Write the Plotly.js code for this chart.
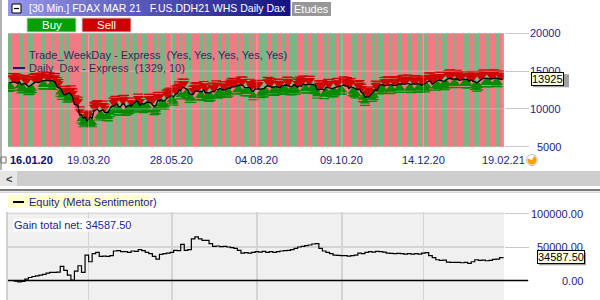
<!DOCTYPE html>
<html><head><meta charset="utf-8">
<script src="https://cdn.plot.ly/plotly-3.0.1.min.js"></script>
<style>html,body{margin:0;padding:0;background:#fff;}#chart{width:600px;height:300px;}</style>
</head><body><div id="chart"></div>
<script>
// ---------------- DATA ----------------
const holidays = ['2020-04-10','2020-04-13','2020-05-01','2020-12-24','2020-12-25','2020-12-31','2021-01-01'];
const firstDay = '2020-01-16', lastDay = '2021-02-19';

const price = [
 13430,13526,13548,13555,13515,13388,13577,13204,13324,13345,13157,12982,
 13045,13250,13479,13575,13514,13494,13627,13749,13745,13744,13783,13681,13789,13664,13579,13035,12790,12774,12367,11890,
 11857,11985,12128,11944,11541,10625,10475,10438,9161,9232,8742,8939,8441,8610,8929,8741,9701,9874,10000,9633,9815,9936,
 9544,9571,9525,10075,10356,10333,10564,10696,10280,10301,10626,10676,10249,10416,10513,10336,10659,10796,11108,10862,
 10467,10730,10606,10759,10904,10825,10820,10542,10337,10465,11058,11075,11223,11065,11074,11392,11505,11657,11781,11587,
 11919,12021,12487,12431,12848,12820,12615,12530,11970,11949,11911,12316,12382,12281,12331,12262,12523,12093,12177,12089,12232,12311,
 12260,12608,12528,12733,12617,12495,12489,12633,12799,12697,12931,12874,12920,13046,13171,13105,13104,12838,12839,12836,12822,12380,12313,
 12647,12601,12660,12592,12675,12688,12947,13058,12994,12901,12920,12881,12977,12830,12765,13067,13061,13190,13096,13033,12945,
 12974,13243,13057,12842,13100,12968,13238,13209,13203,13194,13218,13255,13208,13116,12542,12595,12643,12607,12469,12871,12825,12761,
 12731,12689,12828,12906,12928,13042,13051,13139,13018,13028,12704,12909,12854,12736,12558,12543,12646,12177,12063,11561,11598,11556,
 11789,12089,12324,12568,12480,13096,13163,13216,13052,13077,13139,13133,13202,13087,13137,13127,13292,13290,13286,13335,13291,
 13382,13313,13252,13298,13271,13278,13340,13295,13114,13223,13362,13565,13667,13631,13246,13418,13587,13790,13761,13719,
 13726,13651,13892,13968,14049,13937,13925,13940,13989,13787,13848,13815,13922,13906,13874,13643,13871,13620,13666,13433,
 13622,13835,13933,14060,14057,14060,14012,13932,14040,14050,14109,14034,13909,13887,13925
];

// daily signal (G = buy / green day, R = sell / red day), run-length coded
const signalRuns =
 "G2R4G3R2G3R5G2R3G2R3G2R2G2R6G3R2G2R3G2R2G4R2G3R2G3R1" +
 "G3R2G4R3G2R2G3R3G2R3G1R2G4R4G2R2G3R3G3R2G2R4G2R2G3R2G1R1" +
 "R2G4R3G3R2G3R2G4R4G2R2G4R3G2R2G3R2G2R5G3R3G2R3G2R2G1" +
 "G2R3G2R3G2R4G2R3G2R2G2R4G2R2G3R3G2R4G3R3G3R3G3R3G2R3";

// equity, one value every second trading day
const equity = [
 0,-1000,-2000,-1500,2000,4500,6000,7000,8000,9000,11000,12000,12000,12500,21000,15000,8000,500,14000,22000,
 12000,38000,28000,40000,42000,36000,36500,36000,37000,44000,44500,43000,43000,42000,44000,43500,46000,44500,42000,40000,
 36000,32000,39000,40000,41000,42000,45000,44500,54000,45000,46000,62000,65000,62000,60000,60000,55000,51000,51500,50500,
 51000,50000,49000,48000,45000,41000,41500,41000,42000,43000,42500,43500,42000,43000,42000,43000,44000,44500,45000,46000,
 48000,50000,51000,52000,53000,54500,55000,48000,44000,42000,40000,38000,37500,37000,37000,36500,37000,38000,41000,40000,
 42000,43000,42500,43500,43000,42500,41000,40500,40000,40500,40000,39500,40000,39500,40000,39500,41000,41500,37000,34000,
 31000,30000,30500,27500,27000,27000,27000,26500,27000,25500,28000,31000,30000,30500,29500,30000,31500,32000,34000,34587.5
];

const xTickDates = ['2020-03-19','2020-05-28','2020-08-04','2020-10-09','2020-12-14','2021-02-19'];
const xTickText  = ['19.03.20','28.05.20','04.08.20','09.10.20','14.12.20','19.02.21'];
const firstLabel = '16.01.20';
const priceTicks = [5000,10000,15000,20000];
const equityTicks = [0,50000,100000];
const lastPrice = 13925;
const gainNet = 34587.50;
const headerText = '[30 Min.] FDAX MAR 21\u00a0\u00a0\u00a0F.US.DDH21 WHS Daily Dax';
const legend1 = 'Trade_WeekDay - Express\u00a0\u00a0(Yes, Yes, Yes, Yes, Yes)';
const legend2 = 'Daily_Dax - Express\u00a0\u00a0(1329, 10)';
const legend3 = 'Equity (Meta Sentimentor)';

// ---------------- BUILD ----------------
const dates = [];
for (let d = new Date(firstDay + 'T00:00:00Z'); d <= new Date(lastDay + 'T00:00:00Z'); d.setUTCDate(d.getUTCDate() + 1)) {
  const wd = d.getUTCDay();
  if (wd === 0 || wd === 6) continue;
  const s = d.toISOString().slice(0, 10);
  if (holidays.includes(s)) continue;
  dates.push(s);
}
const signal = [];
signalRuns.match(/[GR]\d+/g).forEach(t => { for (let k = 0; k < +t.slice(1); k++) signal.push(t[0]); });

const N = dates.length;
const FONT = 'Liberation Sans, Arial, sans-serif';
const NAVY = '#1c1c8c';
const STRIPE_G = '#7bb585', STRIPE_R = '#f27a84';
const px = x => x / 600, py = y => 1 - y / 300;

const redX = [], redY = [], redL = [], grnX = [], grnY = [], grnL = [];
for (let i = 0; i < N; i++) {
  if (signal[i] === 'R') { redX.push(dates[i]); redY.push(price[i] + 560); redL.push(price[i] + 1100); }
  else { grnX.push(dates[i]); grnY.push(price[i] - 560); grnL.push(price[i] - 1100); }
}
const eqX = dates.filter((d, i) => i % 2 === 1);
const tickIdx = xTickDates.map(d => dates.indexOf(d));

const traces = [
  { type: 'bar', x: dates, y: dates.map(() => 15000), base: 5000, width: 1,
    marker: { color: signal.map(s => s === 'R' ? STRIPE_R : STRIPE_G), line: { width: 0 } },
    xaxis: 'x', yaxis: 'y', hoverinfo: 'skip' },
  { type: 'scatter', mode: 'markers', x: redX, y: redL, xaxis: 'x', yaxis: 'y',
    marker: { symbol: 'line-ew', size: 7, line: { color: '#d00000', width: 1.2 } } },
  { type: 'scatter', mode: 'markers', x: grnX, y: grnL, xaxis: 'x', yaxis: 'y',
    marker: { symbol: 'line-ew', size: 7, line: { color: '#008a00', width: 1.2 } } },
  { type: 'scatter', mode: 'markers', x: redX, y: redY, xaxis: 'x', yaxis: 'y',
    marker: { symbol: 'triangle-down', size: 9, color: '#d00000', line: { width: 0 } } },
  { type: 'scatter', mode: 'markers', x: grnX, y: grnY, xaxis: 'x', yaxis: 'y',
    marker: { symbol: 'triangle-up', size: 9, color: '#008a00', line: { width: 0 } } },
  { type: 'scatter', mode: 'lines', x: dates, y: price, xaxis: 'x', yaxis: 'y',
    line: { color: '#000', width: 1.3 } },
  { type: 'scatter', mode: 'lines', x: eqX, y: equity, xaxis: 'x2', yaxis: 'y2',
    line: { color: '#000', width: 1.2, shape: 'hv' } }
];

const shapes = [];
// header gradient bar
const G0 = [150, 150, 235], G1 = [20, 20, 130];
const nSeg = 40, hx0 = 8, hx1 = 290;
for (let k = 0; k < nSeg; k++) {
  const t = k / (nSeg - 1);
  const c = G0.map((v, j) => Math.round(v + (G1[j] - v) * t));
  shapes.push({ type: 'rect', xref: 'paper', yref: 'paper', layer: 'below',
    x0: px(hx0 + (hx1 - hx0) * k / nSeg), x1: px(hx0 + (hx1 - hx0) * (k + 1) / nSeg + 0.5),
    y0: py(16), y1: py(0), fillcolor: `rgb(${c.join(',')})`, line: { width: 0 } });
}
// header minus box
shapes.push({ type: 'rect', xref: 'paper', yref: 'paper', x0: px(12), x1: px(21), y0: py(13), y1: py(4),
  fillcolor: '#fff', line: { color: '#000', width: 1 } });
shapes.push({ type: 'line', xref: 'paper', yref: 'paper', x0: px(14), x1: px(19), y0: py(8.5), y1: py(8.5),
  line: { color: '#000', width: 1.2 } });
// Etudes / Buy / Sell buttons
shapes.push({ type: 'rect', xref: 'paper', yref: 'paper', x0: px(292), x1: px(331), y0: py(16), y1: py(2),
  fillcolor: '#979797', line: { width: 0 } });
shapes.push({ type: 'rect', xref: 'paper', yref: 'paper', x0: px(27), x1: px(76), y0: py(32), y1: py(18),
  fillcolor: '#00a000', line: { color: '#d0d0d0', width: 1 } });
shapes.push({ type: 'rect', xref: 'paper', yref: 'paper', x0: px(82), x1: px(131), y0: py(32), y1: py(18),
  fillcolor: '#cc0000', line: { color: '#d0d0d0', width: 1 } });
// left window edge
shapes.push({ type: 'line', xref: 'paper', yref: 'paper', x0: px(1), x1: px(1), y0: py(170), y1: py(0),
  line: { color: '#9a9a9a', width: 1.5 } });
// faint grid over stripes
priceTicks.slice(1, 3).forEach(v => shapes.push({ type: 'line', xref: 'paper', yref: 'y', x0: px(8), x1: px(504), y0: v, y1: v,
  line: { color: 'rgba(225,225,225,0.45)', width: 1 } }));
tickIdx.forEach(i => shapes.push({ type: 'line', xref: 'x', yref: 'y', x0: i, x1: i, y0: 5000, y1: 20000,
  line: { color: 'rgba(225,225,225,0.35)', width: 1 } }));
// scrollbar
shapes.push({ type: 'rect', xref: 'paper', yref: 'paper', x0: 0, x1: 1, y0: py(186), y1: py(171),
  fillcolor: '#cdcdcd', line: { width: 0 } });
shapes.push({ type: 'rect', xref: 'paper', yref: 'paper', x0: 0, x1: px(17), y0: py(186), y1: py(171),
  fillcolor: '#e6e6e6', line: { width: 0 } });
// panel separator
shapes.push({ type: 'rect', xref: 'paper', yref: 'paper', x0: 0, x1: 1, y0: py(191), y1: py(189),
  fillcolor: '#7a7a7a', line: { width: 0 } });
shapes.push({ type: 'rect', xref: 'paper', yref: 'paper', x0: 0, x1: 1, y0: py(193), y1: py(191.5),
  fillcolor: '#d6d6d6', line: { width: 0 } });
// equity legend box
shapes.push({ type: 'rect', xref: 'paper', yref: 'paper', x0: px(8), x1: px(150), y0: py(208), y1: py(195),
  fillcolor: '#ffffcc', line: { width: 0 } });
shapes.push({ type: 'line', xref: 'paper', yref: 'paper', x0: px(13), x1: px(24), y0: py(202), y1: py(202),
  line: { color: '#000', width: 2 } });
// Daily_Dax legend dash
shapes.push({ type: 'line', xref: 'paper', yref: 'paper', x0: px(13), x1: px(25), y0: py(68), y1: py(68),
  line: { color: '#1a1a7a', width: 2 } });
// bottom panel left border
shapes.push({ type: 'line', xref: 'paper', yref: 'paper', x0: px(7), x1: px(7), y0: 0, y1: py(212),
  line: { color: '#a0a0a0', width: 1 } });
// zero line of equity
shapes.push({ type: 'line', xref: 'paper', yref: 'y2', x0: px(8), x1: px(528), y0: 0, y1: 0,
  line: { color: '#000', width: 1.5 } });
// tag shadows
shapes.push({ type: 'rect', xref: 'paper', yref: 'y', ysizemode: 'pixel', yanchor: lastPrice,
  x0: px(533), x1: px(569), y0: -8, y1: 5, fillcolor: '#a0a0a0', line: { width: 0 } });
shapes.push({ type: 'rect', xref: 'paper', yref: 'y2', ysizemode: 'pixel', yanchor: gainNet,
  x0: px(539), x1: px(586), y0: -8, y1: 5, fillcolor: '#a0a0a0', line: { width: 0 } });
// orange clock icon
const cx = 532, cy = 160, r = 5.5;
shapes.push({ type: 'circle', xref: 'paper', yref: 'paper', x0: px(cx - r), x1: px(cx + r), y0: py(cy + r), y1: py(cy - r),
  fillcolor: '#fff', line: { color: '#c0c0c0', width: 1 } });
let pth = `M ${px(cx)},${py(cy)}`;
for (let a = -60; a <= 200; a += 20) {
  const rad = a * Math.PI / 180;
  pth += ` L ${px(cx + (r - 1) * Math.cos(rad))},${py(cy + (r - 1) * Math.sin(rad))}`;
}
pth += ' Z';
shapes.push({ type: 'path', xref: 'paper', yref: 'paper', path: pth, fillcolor: '#f5a300', line: { width: 0 } });
// small icon at left of x labels
shapes.push({ type: 'rect', xref: 'paper', yref: 'paper', x0: px(1), x1: px(6), y0: py(163), y1: py(157),
  fillcolor: 'rgba(0,0,0,0)', line: { color: '#707070', width: 1 } });

const A = (text, x, y, o = {}) => Object.assign({ text, x, y, xref: 'paper', yref: 'paper', showarrow: false,
  xanchor: 'left', yanchor: 'middle', font: { family: FONT, size: 11, color: NAVY } }, o);

const annotations = [
  A(headerText, px(27), py(8.5), { font: { family: FONT, size: 10.5, color: '#ffffff' } }),
  A('Etudes', px(311.5), py(9), { xanchor: 'center', font: { family: FONT, size: 11, color: '#ffffff' } }),
  A('Buy', px(51.5), py(25), { xanchor: 'center', font: { family: FONT, size: 11.5, color: '#ffffff' } }),
  A('Sell', px(106.5), py(25), { xanchor: 'center', font: { family: FONT, size: 11.5, color: '#ffffff' } }),
  A(legend1, px(27), py(55), { font: { family: FONT, size: 11, color: '#23305e' } }),
  A(legend2, px(27), py(68), { font: { family: FONT, size: 11, color: '#4a1f55' } }),
  A('<b>' + firstLabel + '</b>', px(8), py(160), { font: { family: FONT, size: 11, color: '#0c0c70' } }),
  A('<b>&lt;</b>', px(8.5), py(178.5), { xanchor: 'center', font: { family: FONT, size: 11, color: '#404040' } }),
  A(legend3, px(27), py(201.5), { font: { family: FONT, size: 11, color: NAVY } }),
  A('Gain total net: ' + gainNet.toFixed(2), px(13), py(225), { bgcolor: '#ffffff', borderpad: 0,
    font: { family: FONT, size: 11, color: NAVY } })
];
xTickText.forEach((t, k) => annotations.push(A(t, tickIdx[k], py(160), { xref: 'x', xanchor: 'center' })));
priceTicks.forEach(v => annotations.push(A(String(v), px(563), v, { yref: 'y', xanchor: 'right' })));
equityTicks.forEach(v => annotations.push(A(v.toFixed(2), px(585), v, { yref: 'y2', xanchor: 'right' })));
// value tags drawn after the tick labels (they cover them, as in the original)
annotations.push(A(String(lastPrice), px(531), lastPrice, { yref: 'y', bgcolor: '#ffffe1', bordercolor: '#000', borderwidth: 1, borderpad: 0,
  font: { family: FONT, size: 11, color: '#000' } }));
annotations.push(A(gainNet.toFixed(2), px(537), gainNet, { yref: 'y2', bgcolor: '#ffffe1', bordercolor: '#000', borderwidth: 1, borderpad: 0,
  font: { family: FONT, size: 11, color: '#000' } }));

const xCommon = { type: 'category', categoryorder: 'array', categoryarray: dates, range: [-0.5, N - 0.5],
  domain: [px(8), px(504)], showticklabels: false, ticks: '', zeroline: false, showline: false, fixedrange: true };

const layout = {
  width: 600, height: 300, margin: { l: 0, r: 0, t: 0, b: 0 },
  paper_bgcolor: '#ffffff', plot_bgcolor: '#f0f0f0', showlegend: false, bargap: 0,
  font: { family: FONT },
  xaxis: Object.assign({}, xCommon, { anchor: 'y', showgrid: false }),
  yaxis: { domain: [py(146.7), py(33.3)], range: [5000, 20000], side: 'right', anchor: 'x',
    tickvals: priceTicks, showticklabels: false, ticks: 'outside', ticklen: 24, tickcolor: '#c8c8c8', tickwidth: 1,
    showgrid: false, zeroline: false, showline: false },
  xaxis2: Object.assign({}, xCommon, { anchor: 'y2', showgrid: true, gridcolor: '#d4d4d4', gridwidth: 1.5,
    tickmode: 'array', tickvals: tickIdx }),
  yaxis2: { domain: [0, py(212)], range: [-29100, 102240], side: 'right', anchor: 'x2',
    tickvals: equityTicks, showticklabels: false, ticks: 'outside', ticklen: 24, tickcolor: '#c8c8c8', tickwidth: 1,
    showgrid: true, gridcolor: '#d4d4d4', gridwidth: 1.5, zeroline: false, showline: false },
  shapes, annotations
};

Plotly.newPlot('chart', traces, layout, { staticPlot: true, displayModeBar: false });
</script>
</body></html>
